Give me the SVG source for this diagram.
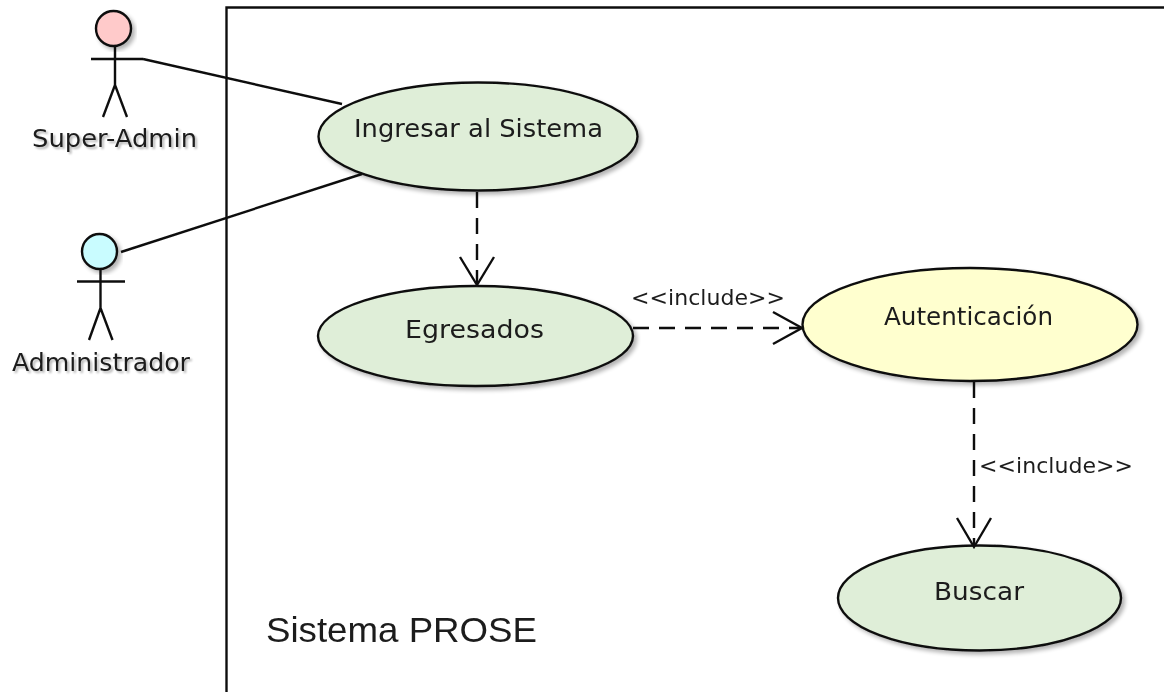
<svg xmlns="http://www.w3.org/2000/svg" width="1164" height="692" viewBox="0 0 1164 692">
<defs>
<filter id="sh" x="-10%" y="-10%" width="125%" height="125%"><feGaussianBlur in="SourceAlpha" stdDeviation="2"/><feOffset dx="3" dy="3"/><feComponentTransfer><feFuncA type="linear" slope="0.3"/></feComponentTransfer><feMerge><feMergeNode/><feMergeNode in="SourceGraphic"/></feMerge></filter>
<filter id="ts" x="-10%" y="-20%" width="120%" height="150%"><feGaussianBlur in="SourceGraphic" stdDeviation="0.4" result="b"/><feGaussianBlur in="SourceAlpha" stdDeviation="1.2"/><feOffset dx="2" dy="2"/><feComponentTransfer><feFuncA type="linear" slope="0.3"/></feComponentTransfer><feMerge><feMergeNode/><feMergeNode in="b"/></feMerge></filter>
<filter id="soft" x="-5%" y="-5%" width="110%" height="110%"><feGaussianBlur stdDeviation="0.4"/></filter>
</defs>
<style>
text{font-family:"DejaVu Sans","Liberation Sans",sans-serif;fill:#1c1c1c}
.l{font-size:25px}
.s{font-size:22px}
.ln{fill:none;stroke:#111;stroke-width:2.4}
.d{stroke-dasharray:16 10}
.uc{stroke:#111;stroke-width:2.4}
.g{fill:#dfeed8}
</style>
<rect width="1164" height="692" fill="#fff"/>
<g id="system" filter="url(#soft)">
<path class="ln" d="M226.500 692V7.500H1164"/>
<text x="266" y="642" textLength="271" lengthAdjust="spacingAndGlyphs" style="font-family:'Liberation Sans',sans-serif;font-size:35px">Sistema PROSE</text>
</g>
<g id="actor-super-admin">
<circle cx="113.500" cy="28.500" r="17.500" fill="#ffcaca" class="uc" filter="url(#sh)"/>
<path class="ln" d="M91 59H143M115 46V85M115 85L103 117M115 85L127 117" filter="url(#soft)"/>
<text class="l" x="32" y="147" textLength="165" lengthAdjust="spacingAndGlyphs" filter="url(#ts)">Super-Admin</text>
</g>
<g id="actor-administrador">
<circle cx="99.500" cy="251.500" r="17.500" fill="#c9fcff" class="uc" filter="url(#sh)"/>
<path class="ln" d="M77 281.500H125M100.500 269V308M100.500 308L89 340M100.500 308L112.500 340" filter="url(#soft)"/>
<text class="l" x="12" y="371" textLength="178" lengthAdjust="spacingAndGlyphs" filter="url(#ts)">Administrador</text>
</g>
<g id="uc-ingresar">
<ellipse class="uc g" cx="478" cy="136.500" rx="159.500" ry="54" filter="url(#sh)"/>
<text class="l" x="354" y="137" textLength="249" lengthAdjust="spacingAndGlyphs" filter="url(#soft)">Ingresar al Sistema</text>
</g>
<g id="uc-egresados">
<ellipse class="uc g" cx="475.500" cy="336" rx="157.500" ry="50" filter="url(#sh)"/>
<text class="l" x="405" y="338" textLength="139" lengthAdjust="spacingAndGlyphs" filter="url(#soft)">Egresados</text>
</g>
<g id="uc-autenticacion">
<ellipse class="uc" fill="#ffffcf" cx="970" cy="324.500" rx="167.500" ry="56.500" filter="url(#sh)"/>
<text class="l" x="884" y="325" textLength="169" lengthAdjust="spacingAndGlyphs" filter="url(#soft)">Autenticación</text>
</g>
<g id="uc-buscar">
<ellipse class="uc g" cx="979.500" cy="598" rx="141.500" ry="52.500" filter="url(#sh)"/>
<text class="l" x="934" y="600" textLength="90" lengthAdjust="spacingAndGlyphs" filter="url(#soft)">Buscar</text>
</g>
<g id="connectors" filter="url(#soft)">
<path class="ln" d="M143 59L342 104"/>
<path class="ln" d="M121 252L362 174"/>
<path class="ln d" d="M477 192V284"/>
<path class="ln" d="M460 257L477 285L494 257"/>
<path class="ln d" d="M633 328H802"/>
<path class="ln" d="M773 312L802 328L773 344"/>
<path class="ln d" d="M974 382V546"/>
<path class="ln" d="M957 518L974 547L991 518"/>
<text class="s" x="631" y="305" textLength="154">&lt;&lt;include&gt;&gt;</text>
<text class="s" x="979" y="473" textLength="154">&lt;&lt;include&gt;&gt;</text>
</g>
</svg>
